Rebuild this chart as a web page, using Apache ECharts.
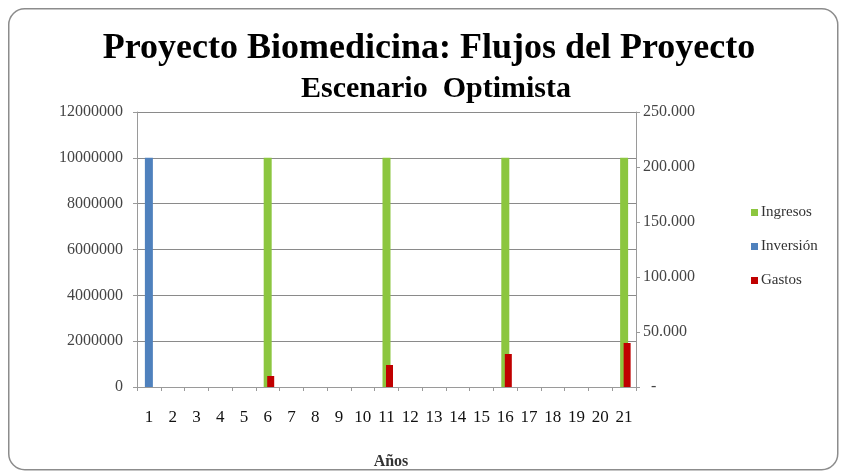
<!DOCTYPE html>
<html>
<head>
<meta charset="utf-8">
<script src="https://cdn.jsdelivr.net/npm/echarts@6/dist/echarts.min.js"></script>
<style>html,body{margin:0;padding:0;background:#fff}#c{width:846px;height:474px}</style>
</head>
<body>
<div id="c"></div>
<script>
const years = ['1','2','3','4','5','6','7','8','9','10','11','12','13','14','15','16','17','18','19','20','21'];
const ingresos = [0,0,0,0,0,10000000,0,0,0,0,10000000,0,0,0,0,10000000,0,0,0,0,10000000];
const inversion = [10000000,0,0,0,0,0,0,0,0,0,0,0,0,0,0,0,0,0,0,0,0];
const gastos = [0,0,0,0,0,10000,0,0,0,0,20000,0,0,0,0,30000,0,0,0,0,40000];
const leftTicks = {min:0, max:12000000, interval:2000000};
const rightTicks = {min:0, max:250000, interval:50000};

const serif = 'Liberation Serif';
const chart = echarts.init(document.getElementById('c'));
chart.setOption({
  animation: false,
  backgroundColor: '#fff',
  graphic: [{
    type: 'rect', left: 8, top: 8, silent: true, z: -1,
    shape: {width: 829, height: 461, r: 16},
    style: {fill: '#fff', stroke: '#8c8c8c', lineWidth: 1.5}
  }],
  title: [{
    text: 'Proyecto Biomedicina: Flujos del Proyecto',
    left: 424, textAlign: 'center', top: 26,
    textStyle: {fontFamily: serif, fontWeight: 'bold', fontSize: 36, color: '#000'}
  }, {
    text: 'Escenario  Optimista',
    left: 431, textAlign: 'center', top: 69,
    textStyle: {fontFamily: serif, fontWeight: 'bold', fontSize: 30, color: '#000'}
  }, {
    text: 'Años',
    left: 386, textAlign: 'center', top: 449,
    textStyle: {fontFamily: serif, fontWeight: 'bold', fontSize: 16, color: '#333'}
  }],
  legend: {
    orient: 'vertical', left: 746, top: 200,
    itemWidth: 7, itemHeight: 7, itemGap: 19, icon: 'rect',
    data: ['Ingresos','Inversión','Gastos'],
    textStyle: {fontFamily: serif, fontSize: 15, color: '#333', padding: [0,0,0,-2]}
  },
  grid: {left: 137, right: 210, top: 112, bottom: 87},
  xAxis: [{
    type: 'category', data: years,
    axisLine: {lineStyle: {color: '#9a9a9a'}},
    axisTick: {show: true, length: 4, lineStyle: {color: '#9a9a9a'}},
    axisLabel: {fontFamily: serif, fontSize: 17, color: '#111', margin: 22, interval: 0}
  }, {
    type: 'category', data: years, show: false
  }],
  yAxis: [{
    type: 'value', min: leftTicks.min, max: leftTicks.max, interval: leftTicks.interval,
    axisLine: {show: true, lineStyle: {color: '#9a9a9a'}},
    axisTick: {show: true, length: 4, lineStyle: {color: '#9a9a9a'}},
    splitLine: {show: true, lineStyle: {color: '#8a8a8a', width: 1}},
    axisLabel: {fontFamily: serif, fontSize: 16, color: '#444', margin: 14, formatter: v => String(v)}
  }, {
    type: 'value', min: rightTicks.min, max: rightTicks.max, interval: rightTicks.interval,
    position: 'right',
    axisLine: {show: true, lineStyle: {color: '#9a9a9a'}},
    axisTick: {show: true, length: 4, lineStyle: {color: '#9a9a9a'}},
    splitLine: {show: false},
    axisLabel: {
      fontFamily: serif, fontSize: 16, color: '#444', margin: 7,
      formatter: v => v === 0 ? '  -' : String(v).replace(/(\d)(?=(\d{3})+$)/g, '$1.')
    }
  }],
  series: [{
    name: 'Ingresos', type: 'bar', xAxisIndex: 0, yAxisIndex: 0, stack: 'p',
    barWidth: 8, data: ingresos, itemStyle: {color: '#8cc63f'}
  }, {
    name: 'Inversión', type: 'bar', xAxisIndex: 0, yAxisIndex: 0, stack: 'p',
    barWidth: 8, data: inversion, itemStyle: {color: '#4f81bd'}
  }, {
    name: 'spacer', type: 'bar', xAxisIndex: 1, yAxisIndex: 1,
    barWidth: 7, data: years.map(() => null), itemStyle: {color: 'transparent'}
  }, {
    name: 'Gastos', type: 'bar', xAxisIndex: 1, yAxisIndex: 1,
    barWidth: 7, barGap: '-14%', data: gastos, itemStyle: {color: '#c00000'}
  }]
});
</script>
</body>
</html>
